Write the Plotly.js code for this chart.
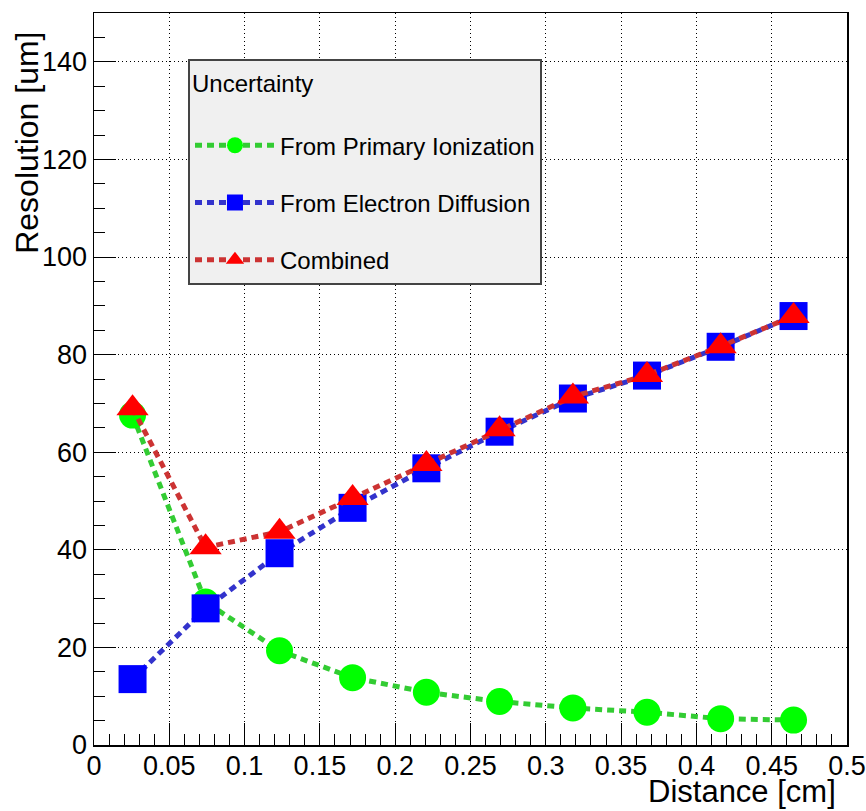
<!DOCTYPE html>
<html>
<head>
<meta charset="utf-8">
<script src="https://cdn.plot.ly/plotly-3.0.1.min.js"></script>
<style>
  html, body { margin: 0; padding: 0; background: #ffffff; }
  #chart { width: 866px; height: 811px; }
</style>
</head>
<body>
<div id="chart"></div>
<script>
// ---- data ----
var distanceCm = [0.0256, 0.0741, 0.1232, 0.1717, 0.2207, 0.2693, 0.318, 0.3672, 0.4161, 0.4645];
var primaryIonization = [67.6, 29.3, 19.3, 13.8, 10.8, 8.9, 7.6, 6.7, 5.4, 5.1];
var electronDiffusion = [13.5, 28.0, 39.3, 48.6, 56.7, 64.2, 71.0, 75.7, 81.6, 87.9];
var combined = [69.0, 40.5, 43.7, 50.6, 57.6, 64.7, 71.4, 75.8, 81.7, 87.9];
var seriesNames = ["From Primary Ionization", "From Electron Diffusion", "Combined"];
var legendTitle = "Uncertainty";
var xTitle = "Distance [cm]";
var yTitle = "Resolution [um]";

var FONT = "Liberation Sans, Arial, Helvetica, sans-serif";
var dashStyle = "7px,5px";

var traces = [
  {
    x: distanceCm, y: primaryIonization, name: seriesNames[0],
    type: "scatter", mode: "lines+markers", legendgroup: "g1",
    line: { color: "#33cc33", width: 5, dash: dashStyle },
    marker: { symbol: "circle", size: 27, color: "#00ff00", line: { width: 0 } }
  },
  {
    x: distanceCm, y: electronDiffusion, name: seriesNames[1],
    type: "scatter", mode: "lines+markers", legendgroup: "g2",
    line: { color: "#3333cc", width: 5, dash: dashStyle },
    marker: { symbol: "square", size: 28, color: "#0000ff", line: { width: 0 } }
  },
  {
    x: distanceCm, y: combined, name: seriesNames[2],
    type: "scatter", mode: "lines+markers", legendgroup: "g3",
    line: { color: "#cc3333", width: 5, dash: dashStyle },
    marker: { symbol: "triangle-up", size: 28, color: "#ff0000", line: { width: 0 } }
  }
];

var layout = {
  width: 866, height: 811,
  paper_bgcolor: "#ffffff", plot_bgcolor: "#ffffff",
  margin: { l: 94, r: 19, t: 13, b: 66 },
  font: { family: FONT, size: 27, color: "#000000" },
  showlegend: true,
  legend: {
    x: 0.1248, y: 0.9375, xanchor: "left", yanchor: "top",
    bgcolor: "#f0f0f0", bordercolor: "#444444", borderwidth: 2,
    font: { family: FONT, size: 24, color: "#000000" },
    title: { text: legendTitle + "<br> ", font: { family: FONT, size: 24, color: "#000000" } },
    traceorder: "grouped", tracegroupgap: 23,
    itemwidth: 80
  },
  xaxis: {
    range: [0, 0.5], dtick: 0.05, tick0: 0,
    ticks: "inside", ticklen: 22, tickwidth: 1, tickcolor: "#000000",
    showline: true, linecolor: "#000000", linewidth: 1.5, mirror: true,
    showgrid: true, gridcolor: "#000000", gridwidth: 1, griddash: "1px,3px",
    zeroline: false, ticklabelstandoff: -4,
    tickfont: { family: FONT, size: 27, color: "#000000" },
    minor: { dtick: 0.01, ticks: "inside", ticklen: 11, tickwidth: 1, tickcolor: "#000000", showgrid: false }
  },
  yaxis: {
    range: [0, 150], dtick: 20, tick0: 0,
    ticks: "inside", ticklen: 22, tickwidth: 1, tickcolor: "#000000",
    showline: true, linecolor: "#000000", linewidth: 1.5, mirror: true,
    showgrid: true, gridcolor: "#000000", gridwidth: 1, griddash: "1px,3px",
    zeroline: false,
    tickfont: { family: FONT, size: 27, color: "#000000" },
    minor: { dtick: 5, ticks: "inside", ticklen: 11, tickwidth: 1, tickcolor: "#000000", showgrid: false }
  },
  annotations: [
    {
      text: xTitle, xref: "paper", yref: "paper",
      x: 0.988, y: -0.064, xanchor: "right", yanchor: "middle",
      showarrow: false, font: { family: FONT, size: 31, color: "#000000" }
    },
    {
      text: yTitle, xref: "paper", yref: "paper",
      x: -0.089, y: 0.977, xanchor: "center", yanchor: "top", textangle: -90,
      showarrow: false, font: { family: FONT, size: 32, color: "#000000" }
    }
  ]
};

Plotly.newPlot("chart", traces, layout, { displayModeBar: false, staticPlot: true });
</script>
</body>
</html>
